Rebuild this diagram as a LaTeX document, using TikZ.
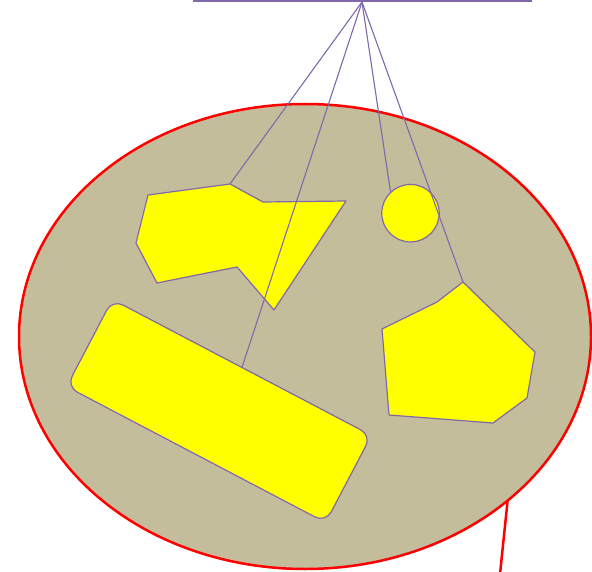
\documentclass[tikz,border=0pt]{standalone}
\usetikzlibrary{shapes.geometric}
\definecolor{tanfill}{RGB}{196,189,155}
\definecolor{violetline}{RGB}{128,104,170}
\definecolor{yel}{RGB}{255,255,0}
\begin{document}
\begin{tikzpicture}[x=1pt,y=-1pt,
  field/.style={ellipse, draw=red, fill=tanfill, line width=2.5pt, inner sep=0pt, outer sep=0pt},
  blob/.style={draw=violetline, fill=yel, line width=1.2pt, line join=round},
  tie/.style={draw=violetline, line width=1.1pt},
  redline/.style={draw=red, line width=2.5pt}]
\useasboundingbox (0,0) rectangle (592,572);
% field
\node[field, minimum width=572pt, minimum height=465pt] (field) at (305,336.5) {};
\coordinate (redend) at (500,574);
\draw[redline] (field.-39.2) -- (redend);
% top bar
\coordinate (topL) at (193,1);
\coordinate (topR) at (532,1);
\coordinate (apex) at (362,2);
\draw[tie, line width=1.6pt] (topL) -- (topR);
% polygon 1
\coordinate (pa) at (148,195);
\coordinate (pb) at (230,184);
\coordinate (pc) at (263,202);
\coordinate (pd) at (346,201);
\coordinate (pe) at (274,310);
\coordinate (pf) at (237,267);
\coordinate (pg) at (157,283);
\coordinate (ph) at (136,243);
\draw[blob] (pa) -- (pb) -- (pc) -- (pd) -- (pe) -- (pf) -- (pg) -- (ph) -- cycle;
% circle
\node[blob, circle, minimum size=57.5pt, inner sep=0pt] (dot) at (410.5,213.2) {};
% pentagon
\coordinate (qa) at (463,282);
\coordinate (qb) at (535,352);
\coordinate (qc) at (527,398);
\coordinate (qd) at (493,423);
\coordinate (qe) at (389,415);
\coordinate (qf) at (382,329);
\coordinate (qg) at (437,302);
\draw[blob] (qa) -- (qb) -- (qc) -- (qd) -- (qe) -- (qf) -- (qg) -- cycle;
% rounded bar
\node[blob, rectangle, rounded corners=12pt, rotate=-27.7, minimum width=292.5pt, minimum height=98.4pt, inner sep=0pt] (bar) at (219,411) {};
% ties
\draw[tie] (apex) -- (pb);
\draw[tie] (apex) -- (bar.north);
\draw[tie] (apex) -- (dot.133);
\draw[tie] (apex) -- (qa);
\end{tikzpicture}
\end{document}
